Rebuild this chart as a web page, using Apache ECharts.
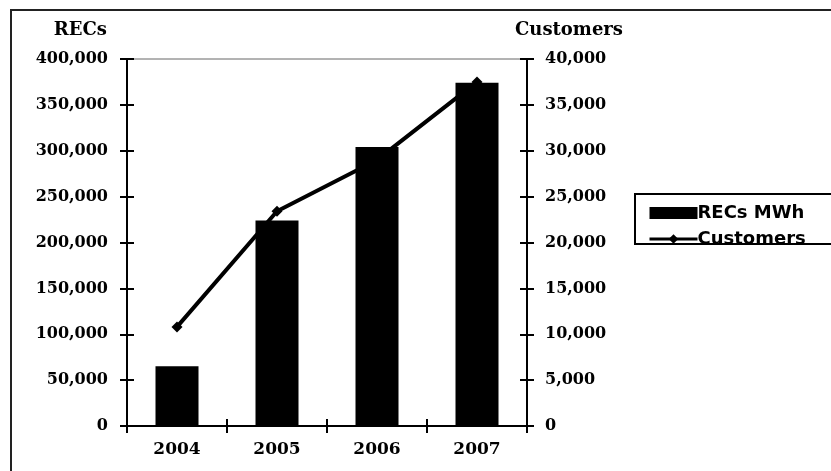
<!DOCTYPE html>
<html>
<head>
<meta charset="utf-8">
<script src="https://cdn.jsdelivr.net/npm/echarts@6/dist/echarts.min.js"></script>
<style>html,body{margin:0;padding:0;background:#fff}#c{width:831px;height:471px}</style>
</head>
<body>
<div id="c"></div>
<script>
const years = ['2004', '2005', '2006', '2007'];
const recs = [65000, 224000, 304000, 374000];
const customers = [10800, 23400, 29000, 37500];
const recTicks = [0, 400000, 50000];
const custTicks = [0, 40000, 5000];

const serif = '"DejaVu Serif", "Liberation Serif", serif';
const sans = '"DejaVu Sans", "Liberation Sans", Arial, sans-serif';
const fmt = v => Number(v).toLocaleString('en-US');
const lab = {fontFamily: serif, fontWeight: 'bold', fontSize: 16, color: '#000'};

const chart = echarts.init(document.getElementById('c'), null, {renderer: 'canvas'});
function yAx(ticks, pos, inside, showLabel, name) {
  return {
    type: 'value', position: pos, min: ticks[0], max: ticks[1], interval: ticks[2],
    name: name || '', nameLocation: 'end', nameGap: 20,
    nameTextStyle: {fontFamily: serif, fontWeight: 'bold', fontSize: 18, color: '#000',
      align: pos === 'left' ? 'right' : 'left', padding: pos === 'left' ? [0, 20, 0, 0] : [0, 0, 0, -12]},
    axisLine: {show: true, lineStyle: {color: '#000', width: 2}},
    axisTick: {show: true, inside: inside, length: 7, lineStyle: {color: '#000', width: 2}},
    axisLabel: {show: showLabel, formatter: fmt, margin: pos === 'left' ? 19 : 18, ...lab},
    splitLine: {show: false}
  };
}
chart.setOption({
  animation: false,
  backgroundColor: '#fff',
  grid: {left: 127, right: 304, top: 59, bottom: 45, show: true, borderColor: '#666', borderWidth: 1, containLabel: false},
  legend: {
    orient: 'vertical', left: 643, top: 199, itemGap: 8, itemWidth: 48, itemHeight: 12,
    textStyle: {fontFamily: sans, fontWeight: 'bold', fontSize: 18, color: '#000', padding: [0, 0, 0, -5]},
    data: [{name: 'RECs MWh', icon: 'rect'}, {name: 'Customers', lineStyle: {width: 3, color: '#000'}}]
  },
  graphic: [
    {type: 'rect', shape: {x: 11, y: 10, width: 900, height: 600}, style: {fill: 'none', stroke: '#222', lineWidth: 2}, z: -1},
    {type: 'rect', shape: {x: 635, y: 194, width: 300, height: 50}, style: {fill: 'none', stroke: '#000', lineWidth: 2}}
  ],
  xAxis: [{
    type: 'category', data: years, position: 'bottom',
    axisLine: {lineStyle: {color: '#000', width: 2}},
    axisTick: {show: true, length: 7, lineStyle: {color: '#000', width: 2}},
    axisLabel: {margin: 15, ...lab, fontSize: 17}
  }, {
    type: 'category', data: years, position: 'bottom',
    axisLine: {show: false},
    axisTick: {show: true, inside: true, length: 7, lineStyle: {color: '#000', width: 2}},
    axisLabel: {show: false}
  }],
  yAxis: [
    yAx(recTicks, 'left', false, true, 'RECs'),
    yAx(custTicks, 'right', false, true, 'Customers'),
    yAx(recTicks, 'left', true, false),
    yAx(custTicks, 'right', true, false)
  ],
  series: [
    {name: 'RECs MWh', type: 'bar', data: recs, yAxisIndex: 0, barWidth: 43, itemStyle: {color: '#000'}},
    {name: 'Customers', type: 'line', data: customers, yAxisIndex: 1, symbol: 'diamond', symbolSize: 11,
      lineStyle: {color: '#000', width: 4}, itemStyle: {color: '#000'}, z: 5}
  ]
});
</script>
</body>
</html>
